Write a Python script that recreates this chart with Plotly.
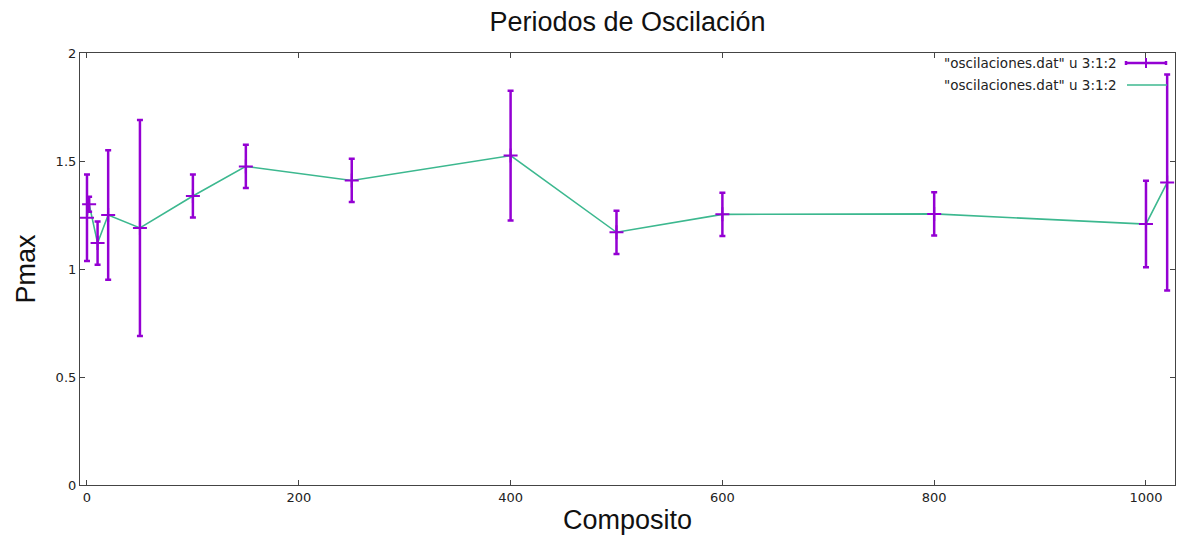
import plotly.graph_objects as go

# Data: x = Composito, y = Pmax, err = error
composito = [0, 2, 10, 20, 50, 100, 150, 250, 400, 500, 600, 800, 1000, 1020]
pmax = [1.237, 1.30, 1.12, 1.25, 1.19, 1.338, 1.475, 1.41, 1.525, 1.17, 1.253, 1.255, 1.208, 1.40]
err = [0.2, 0.035, 0.1, 0.3, 0.5, 0.1, 0.1, 0.1, 0.3, 0.1, 0.1, 0.1, 0.2, 0.5]

x_ticks = [0, 200, 400, 600, 800, 1000]
y_ticks = [0, 0.5, 1, 1.5, 2]
y_ticklabels = ["0", "0.5", "1", "1.5", "2"]

legend_label = '"oscilaciones.dat" u 3:1:2'

PURPLE = "#9400d3"
GREEN = "#3cb88f"

W, H = 1182, 559
ML, MR, MT, MB = 80, 7, 53, 74
PW = W - ML - MR
PH = H - MT - MB


def px(xp):
    return (xp - ML) / PW


def py(yp):
    return (H - MB - yp) / PH


fig = go.Figure()

fig.add_trace(go.Scatter(
    x=composito, y=pmax, mode="lines",
    line=dict(color=GREEN, width=1.6),
    showlegend=False, hoverinfo="skip",
))

fig.add_trace(go.Scatter(
    x=composito, y=pmax, mode="markers",
    marker=dict(symbol="cross-thin", size=10, line=dict(color=PURPLE, width=2), color=PURPLE),
    error_y=dict(type="data", array=err, visible=True, color=PURPLE, thickness=2.5, width=3),
    showlegend=False,
))

axis_common = dict(
    showline=True, linecolor="#444", linewidth=1.2, mirror="ticks",
    ticks="inside", ticklen=5, tickcolor="#444", showgrid=False, zeroline=False,
    tickfont=dict(family="DejaVu Sans", size=13, color="#222"),
)

fig.update_xaxes(
    range=[-6.6, 1027.4], tickvals=x_ticks,
    title=dict(text="Composito", font=dict(family="Liberation Sans, Arial", size=27, color="#111"), standoff=6),
    **axis_common,
)
fig.update_yaxes(
    range=[0, 2], tickvals=y_ticks, ticktext=y_ticklabels,
    title=dict(text="Pmax", font=dict(family="Liberation Sans, Arial", size=27, color="#111"), standoff=12),
    **axis_common,
)

# legend (gnuplot style: text right-aligned, sample on the right)
shapes = []
annotations = []
ly1, ly2 = 63, 85
for ly in (ly1, ly2):
    annotations.append(dict(xref="paper", yref="paper", x=px(1119), y=py(ly), text=legend_label,
                            showarrow=False, xanchor="right", yanchor="middle",
                            font=dict(family="DejaVu Sans", size=13.5, color="#222")))
shapes.append(dict(type="line", xref="paper", yref="paper", x0=px(1126), x1=px(1166), y0=py(ly1), y1=py(ly1),
                   line=dict(color=PURPLE, width=2.5)))
for xc in (1126, 1166):
    shapes.append(dict(type="line", xref="paper", yref="paper", x0=px(xc), x1=px(xc), y0=py(ly1 - 2), y1=py(ly1 + 2),
                       line=dict(color=PURPLE, width=2.5)))
shapes.append(dict(type="line", xref="paper", yref="paper", x0=px(1146), x1=px(1146), y0=py(ly1 - 5), y1=py(ly1 + 5),
                   line=dict(color=PURPLE, width=2)))
shapes.append(dict(type="line", xref="paper", yref="paper", x0=px(1127), x1=px(1167), y0=py(ly2), y1=py(ly2),
                   line=dict(color=GREEN, width=1.6)))

fig.update_layout(
    width=W, height=H,
    margin=dict(l=ML, r=MR, t=MT, b=MB),
    paper_bgcolor="white", plot_bgcolor="white",
    title=dict(text="Periodos de Oscilación", x=0.5, xref="paper", y=1 - 22 / H, yanchor="middle",
               font=dict(family="Liberation Sans, Arial", size=27, color="#111")),
    shapes=shapes, annotations=annotations,
    showlegend=False,
)

fig.write_html("out.html")
